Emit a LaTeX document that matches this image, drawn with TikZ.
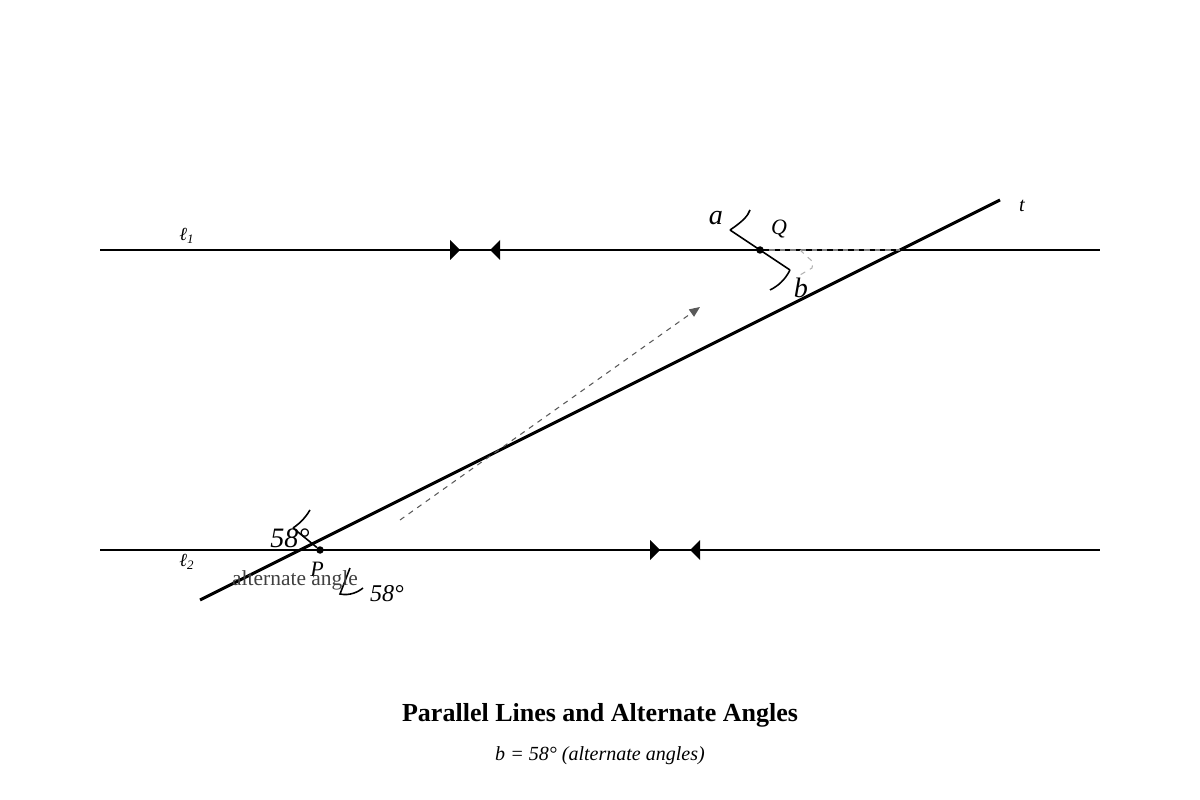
\documentclass[tikz,border=0pt]{standalone}
\usepackage{fontspec}
\setmainfont{Liberation Serif}
\usetikzlibrary{arrows.meta,positioning}

\begin{document}
\begin{tikzpicture}[x=0.02cm,y=-0.02cm,
    parline/.style={line width=1.7pt},
    anglemark/.style={line width=0.9pt},
    dot/.style={circle, fill=black, inner sep=0pt, minimum size=0.15cm},
    biglbl/.style={inner sep=0pt, font=\fontsize{16}{18}\selectfont\itshape},
    midlbl/.style={inner sep=0pt, font=\fontsize{12.5}{14}\selectfont\itshape},
    smalllbl/.style={inner sep=0pt, font=\fontsize{10.5}{12}\selectfont\itshape}]
    \useasboundingbox (0,0) rectangle (1200,800);
    % parallel lines
    \coordinate (L1a) at (100,250);
    \coordinate (L1b) at (1100,250);
    \coordinate (L2a) at (100,550);
    \coordinate (L2b) at (1100,550);
    \draw[parline] (L1a) -- (L1b);
    \draw[parline] (L2a) -- (L2b);
    \fill (450,240) -- (460,250) -- (450,260) -- cycle;
    \fill (500,240) -- (490,250) -- (500,260) -- cycle;
    \fill (650,540) -- (660,550) -- (650,560) -- cycle;
    \fill (700,540) -- (690,550) -- (700,560) -- cycle;
    \node[smalllbl] (l1) at (187,236) {ℓ\textsubscript{1}};
    \node[smalllbl] (l2) at (187,562) {ℓ\textsubscript{2}};
    % transversal
    \coordinate (T1) at (200,600);
    \coordinate (T2) at (1000,200);
    \coordinate (X1) at (900,250);
    \draw[parline] (T1) -- (T2);
    \node[inner sep=0pt, font=\fontsize{11.5}{13}\selectfont\itshape] (t) at (1022,206) {t};
    % points
    \node[dot] (Q) at (760,250) {};
    \node[dot] (P) at (320,550) {};
    \draw[gray, line width=1.2pt] (Q) -- (X1);
    \draw[black, line width=1.2pt, dashed] (Q) -- (X1);
    \draw[gray!60, dashed, line width=0.6pt] (800,250) -- (813,262) -- (812,268) -- (800,275);
    % angle marks at Q
    \coordinate (Qa) at (730,230);
    \coordinate (Qb) at (790,270);
    \draw[anglemark] (Qa) -- (Qb);
    \draw[anglemark] (Qa) .. controls (742,222) and (748,216) .. (750,210);
    \draw[anglemark] (Qb) .. controls (785,280) and (778,286) .. (770,290);
    \node[biglbl] (a) at (716,218) {a};
    \node[midlbl] (Qlbl) at (779,229) {Q};
    \node[biglbl] (b) at (801,288) {b};
    % angle marks at P
    \coordinate (Pa) at (293,528);
    \draw[anglemark] (Pa) -- (P);
    \draw[anglemark] (Pa) .. controls (302,522) and (307,515) .. (310,510);
    \coordinate (Pc) at (350,568);
    \coordinate (Pd) at (340,594);
    \draw[anglemark] (Pc) -- (Pd) .. controls (350,596) and (358,592) .. (363,588);
    \node[biglbl] (ang1) at (290,538) {58°};
    \node[midlbl] (Plbl) at (317,569) {P};
    \node[inner sep=0pt, text=black!75, font=\fontsize{12.2}{14}\selectfont] (alt) at (295,580) {alternate angle};
    \node[inner sep=0pt, font=\fontsize{13.7}{15}\selectfont\itshape] (ang2) at (387,594) {58°};
    % dashed arrow
    \coordinate (D1) at (400,520);
    \coordinate (D2) at (700,307);
    \draw[black!65, dashed, line width=0.6pt, -{Triangle[length=6pt,width=5pt]}] (D1) -- (D2);
    % captions
    \node[inner sep=0pt, font=\fontsize{14.8}{17}\selectfont\bfseries] (title) at (600,715) {Parallel Lines and Alternate Angles};
    \node[inner sep=0pt, font=\fontsize{11.4}{13}\selectfont\itshape] (sub) at (600,756) {b = 58° (alternate angles)};
\end{tikzpicture}
\end{document}
